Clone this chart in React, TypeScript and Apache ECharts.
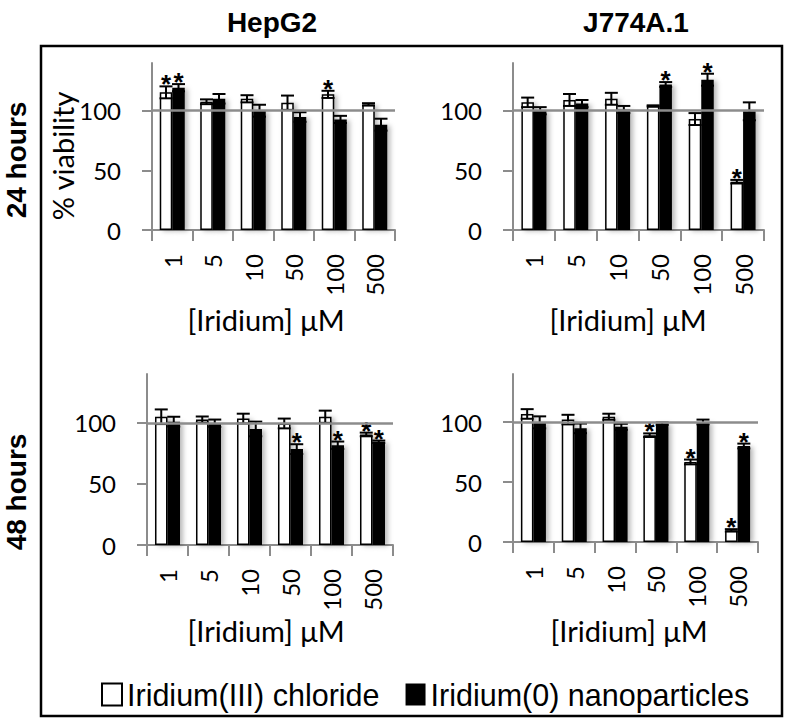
import React, { useEffect, useRef } from 'react';
import * as echarts from 'echarts';

// ---------- data ----------
const categories = ['1', '5', '10', '50', '100', '500'];
const yTicks = [0, 50, 100];
const seriesNames = ['Iridium(III) chloride', 'Iridium(0) nanoparticles'];
const columnTitles = ['HepG2', 'J774A.1'];
const rowTitles = ['24 hours', '48 hours'];
const yAxisTitle = '% viability';
const xAxisTitle = '[Iridium] μM';
const referenceLevel = 100;

// HepG2, 24 h
const hep24Chloride = [115.4, 107.5, 110, 106.7, 113.7, 105.3];
const hep24ChlorideErr = [5, 2, 3, 6, 3, 1];
const hep24ChlorideSig = [1, 0, 0, 0, 1, 0];
const hep24Nano = [119.3, 110, 100, 94.7, 92.7, 88.3];
const hep24NanoErr = [3, 4, 5, 4, 3, 5];
const hep24NanoSig = [1, 0, 0, 0, 0, 0];

// J774A.1, 24 h
const j24Chloride = [107, 109, 110, 104, 93, 40.5];
const j24ChlorideErr = [4, 5, 5, 0.5, 5, 1.5];
const j24ChlorideSig = [0, 0, 0, 0, 0, 1];
const j24Nano = [100, 106, 101, 122, 126, 99.5];
const j24NanoErr = [3, 3, 3, 2, 5, 7.5];
const j24NanoSig = [0, 0, 0, 1, 1, 0];

// HepG2, 48 h
const hep48Chloride = [105, 102.7, 103.5, 99.5, 105, 90.5];
const hep48ChlorideErr = [6, 2.5, 4, 4, 5, 1.5];
const hep48ChlorideSig = [0, 0, 0, 0, 0, 1];
const hep48Nano = [101, 99.7, 95, 78.5, 81.7, 84.5];
const hep48NanoErr = [4, 3, 6, 4, 3, 1];
const hep48NanoSig = [0, 0, 0, 1, 1, 1];

// J774A.1, 48 h
const j48Chloride = [106.7, 102, 104.4, 89, 66.7, 9.7];
const j48ChlorideErr = [4, 4, 2.5, 1.5, 2, 1];
const j48ChlorideSig = [0, 0, 0, 1, 1, 1];
const j48Nano = [99.7, 94.7, 96, 98.6, 100, 80];
const j48NanoErr = [5, 4, 2.5, 1, 2, 2];
const j48NanoSig = [0, 0, 0, 0, 0, 1];

// ---------- layout ----------
const panels = [
  { grid: { left: 152, top: 63, width: 243, height: 167 }, chl: hep24Chloride, chlErr: hep24ChlorideErr, chlSig: hep24ChlorideSig, np: hep24Nano, npErr: hep24NanoErr, npSig: hep24NanoSig },
  { grid: { left: 513, top: 63, width: 251, height: 167 }, chl: j24Chloride, chlErr: j24ChlorideErr, chlSig: j24ChlorideSig, np: j24Nano, npErr: j24NanoErr, npSig: j24NanoSig },
  { grid: { left: 147, top: 374, width: 246, height: 171 }, chl: hep48Chloride, chlErr: hep48ChlorideErr, chlSig: hep48ChlorideSig, np: hep48Nano, npErr: hep48NanoErr, npSig: hep48NanoSig },
  { grid: { left: 513, top: 374, width: 245, height: 168 }, chl: j48Chloride, chlErr: j48ChlorideErr, chlSig: j48ChlorideSig, np: j48Nano, npErr: j48NanoErr, npSig: j48NanoSig },
];

const BAR_W = 12.5;
const AXIS_GRAY = '#8c8c8c';
const LABEL_FONT = 'Lato, "Open Sans", sans-serif';
const TITLE_FONT = '"Liberation Sans", Arial, sans-serif';

function errorRenderer(offset: number) {
  return (params: any, api: any) => {
    const cat = api.value(0);
    const v = api.value(1);
    const e = api.value(2);
    const sig = api.value(3);
    const hi = api.coord([cat, v + e]);
    const lo = api.coord([cat, v - e]);
    const c = api.coord([cat, v]);
    const x = c[0] + offset;
    const cw = 6.5;
    const st = { stroke: '#000', lineWidth: 2 };
    const children: any[] = [];
    if (e > 0.3) {
      children.push({ type: 'line', shape: { x1: x, y1: hi[1], x2: x, y2: lo[1] }, style: st });
      children.push({ type: 'line', shape: { x1: x - cw, y1: hi[1], x2: x + cw, y2: hi[1] }, style: st });
      children.push({ type: 'line', shape: { x1: x - cw, y1: lo[1], x2: x + cw, y2: lo[1] }, style: st });
    }
    if (sig) {
      children.push({
        type: 'text',
        x,
        y: hi[1] - 2,
        style: {
          text: '*',
          fill: '#000',
          fontSize: 26,
          fontWeight: 'bold',
          fontFamily: TITLE_FONT,
          align: 'center',
          verticalAlign: 'middle',
        },
      });
    }
    return { type: 'group', children };
  };
}

function buildOption() {
  const grid: any[] = [];
  const xAxis: any[] = [];
  const yAxis: any[] = [];
  const series: any[] = [];
  const lineStyle = { color: AXIS_GRAY, width: 2 };
  const shadow = { shadowColor: 'rgba(0,0,0,0.28)', shadowBlur: 5, shadowOffsetX: 3, shadowOffsetY: 1 };

  panels.forEach((p, i) => {
    grid.push({ ...p.grid, containLabel: false });
    xAxis.push({
      type: 'category',
      gridIndex: i,
      data: categories,
      axisLine: { show: true, lineStyle },
      axisTick: { show: true, length: 11, lineStyle },
      axisLabel: { rotate: 90, margin: 24, fontSize: 24, fontFamily: LABEL_FONT, color: '#000' },
      splitLine: { show: false },
    });
    yAxis.push({
      type: 'value',
      gridIndex: i,
      min: 0,
      max: 140,
      interval: 50,
      axisLine: { show: true, lineStyle },
      axisTick: { show: true, length: 10, lineStyle, customValues: yTicks },
      axisLabel: { margin: 31, fontSize: 24, fontFamily: LABEL_FONT, color: '#000', customValues: yTicks },
      splitLine: { show: false },
    });
    series.push({
      type: 'bar',
      name: seriesNames[0],
      xAxisIndex: i,
      yAxisIndex: i,
      data: p.chl,
      barWidth: BAR_W,
      barGap: '0%',
      itemStyle: { color: '#fff', borderColor: '#000', borderWidth: 1.5, ...shadow },
    });
    series.push({
      type: 'bar',
      name: seriesNames[1],
      xAxisIndex: i,
      yAxisIndex: i,
      data: p.np,
      barWidth: BAR_W,
      barGap: '0%',
      itemStyle: { color: '#000', borderColor: '#000', borderWidth: 0, ...shadow },
    });
    series.push({
      type: 'custom',
      xAxisIndex: i,
      yAxisIndex: i,
      z: 4,
      renderItem: errorRenderer(-BAR_W / 2),
      data: p.chl.map((v, k) => [k, v, p.chlErr[k], p.chlSig[k]]),
      encode: { x: 0, y: 1 },
      markLine: {
        silent: true,
        symbol: 'none',
        label: { show: false },
        lineStyle: { color: AXIS_GRAY, width: 2.5, type: 'solid' },
        data: [{ yAxis: referenceLevel }],
      },
    });
    series.push({
      type: 'custom',
      xAxisIndex: i,
      yAxisIndex: i,
      z: 4,
      renderItem: errorRenderer(BAR_W / 2),
      data: p.np.map((v, k) => [k, v, p.npErr[k], p.npSig[k]]),
      encode: { x: 0, y: 1 },
    });
  });

  const textStyleLabel = { fill: '#000', fontSize: 29, fontFamily: LABEL_FONT, align: 'center', verticalAlign: 'middle' };
  const textStyleTitle = { fill: '#000', fontSize: 28, fontWeight: 'bold', fontFamily: TITLE_FONT, align: 'center', verticalAlign: 'middle' };

  const graphic: any[] = [
    { type: 'rect', shape: { x: 41, y: 46, width: 741, height: 670 }, style: { fill: 'none', stroke: '#000', lineWidth: 2.5 }, z: 0 },
    { type: 'text', x: 272, y: 22, style: { ...textStyleTitle, text: columnTitles[0] } },
    { type: 'text', x: 636, y: 22, style: { ...textStyleTitle, text: columnTitles[1] } },
    { type: 'text', x: 16, y: 160, rotation: Math.PI / 2, style: { ...textStyleTitle, text: rowTitles[0] } },
    { type: 'text', x: 16, y: 492, rotation: Math.PI / 2, style: { ...textStyleTitle, text: rowTitles[1] } },
    { type: 'text', x: 62, y: 156, rotation: Math.PI / 2, style: { ...textStyleLabel, text: yAxisTitle } },
    { type: 'text', x: 266, y: 319, style: { ...textStyleLabel, text: xAxisTitle } },
    { type: 'text', x: 628, y: 319, style: { ...textStyleLabel, text: xAxisTitle } },
    { type: 'text', x: 266, y: 630, style: { ...textStyleLabel, text: xAxisTitle } },
    { type: 'text', x: 629, y: 630, style: { ...textStyleLabel, text: xAxisTitle } },
  ];

  return {
    animation: false,
    backgroundColor: '#fff',
    grid,
    xAxis,
    yAxis,
    series,
    graphic,
    legend: {
      data: seriesNames,
      left: 96,
      top: 674,
      icon: 'rect',
      itemWidth: 20,
      itemHeight: 22,
      itemGap: 26,
      textStyle: { color: '#000', fontSize: 30.5, fontFamily: TITLE_FONT },
    },
  };
}

export default function App() {
  const ref = useRef<HTMLDivElement>(null);
  useEffect(() => {
    if (!ref.current) return;
    const chart = echarts.init(ref.current, undefined, { renderer: 'svg' });
    chart.setOption(buildOption() as any);
    return () => chart.dispose();
  }, []);
  return (
    <div
      ref={ref}
      style={{ position: 'absolute', left: 0, top: 0, width: 787, height: 720, background: '#fff' }}
    />
  );
}
